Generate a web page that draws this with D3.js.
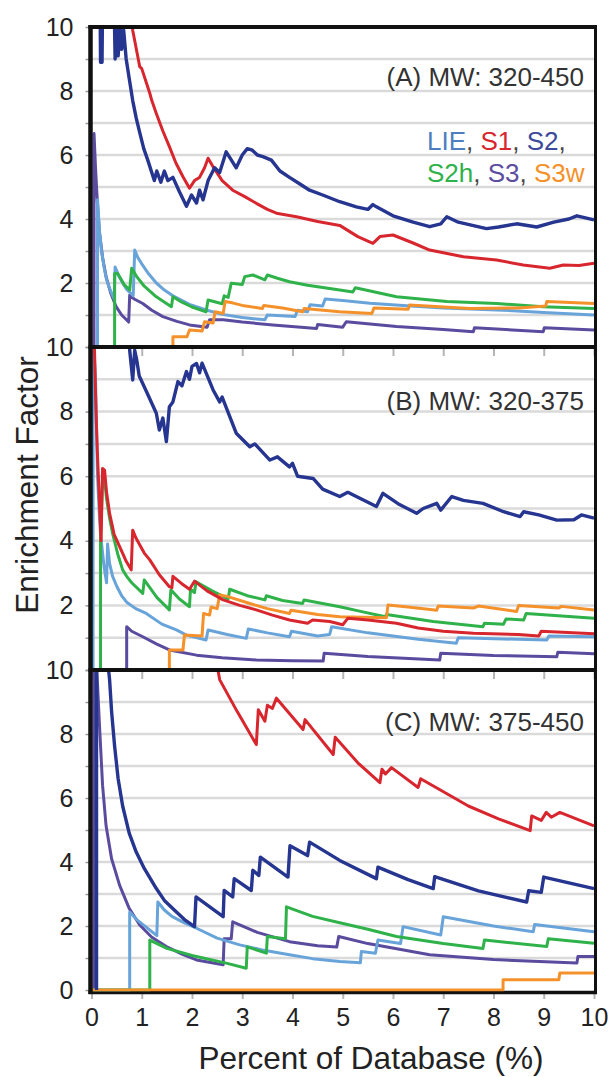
<!DOCTYPE html>
<html>
<head>
<meta charset="utf-8">
<script src="https://cdn.jsdelivr.net/npm/d3@7/dist/d3.min.js"></script>
<style>
  html, body { margin: 0; padding: 0; background: #fff; }
  svg { display: block; font-family: "Liberation Sans", Arial, sans-serif; }
</style>
</head>
<body>
<svg id="chart" width="613" height="1077"></svg>
<script>
// ---- data -------------------------------------------------------------
const seriesNames = ["LIE", "S1", "S2", "S2h", "S3", "S3w"];
const seriesColors = ["#68a4d9", "#d8262e", "#26358f", "#2fb24a", "#5a4b9f", "#f4912a"];
const legendTextColors = ["#4d7fc0", "#d8262e", "#3b4a9a", "#2fb24a", "#5c4d9f", "#f4912a"];
const drawOrder = ["S3", "LIE", "S2h", "S3w", "S1", "S2"];

const xTicks = [0, 1, 2, 3, 4, 5, 6, 7, 8, 9, 10];
const yTicks = [0, 1, 2, 3, 4, 5, 6, 7, 8, 9, 10];
const panelLabels = ["(A) MW: 320-450", "(B) MW: 320-375", "(C) MW: 375-450"];
const xTitle = "Percent of Database (%)";
const yTitle = "Enrichment Factor";

// (A) MW 320-450
const lieA = [[0.12,0],[0.12,4.6],[0.16,3.6],[0.2,3.0],[0.25,2.5],[0.3,2.1],[0.38,1.75],[0.45,1.5],[0.47,2.5],[0.55,2.2],[0.62,2.0],[0.7,1.8],[0.83,1.6],[0.86,3.03],[0.92,2.8],[1.0,2.6],[1.14,2.28],[1.29,2.0],[1.45,1.78],[1.62,1.6],[1.95,1.33],[2.3,1.15],[2.6,1.02],[3.0,0.92],[3.45,0.85],[3.5,1.0],[4.05,0.95],[4.1,1.15],[4.3,1.1],[4.35,1.32],[4.6,1.28],[4.65,1.5],[5.0,1.45],[5.54,1.37],[6.2,1.3],[7.0,1.22],[8.06,1.16],[9.0,1.08],[10,1.0]];
const s1A = [[0.78,10.6],[0.82,9.9],[0.96,8.76],[1.0,8.7],[1.16,7.93],[1.2,7.7],[1.29,7.3],[1.42,6.75],[1.55,6.26],[1.68,5.75],[1.82,5.32],[1.95,4.96],[2.05,5.2],[2.15,5.3],[2.25,5.6],[2.32,5.9],[2.42,5.63],[2.6,5.2],[2.81,4.9],[3.05,4.7],[3.28,4.49],[3.5,4.3],[3.68,4.18],[4.08,4.07],[4.5,3.92],[4.94,3.8],[5.3,3.45],[5.6,3.24],[5.74,3.45],[6.0,3.5],[6.4,3.25],[6.73,3.03],[7.4,2.82],[8.06,2.72],[8.59,2.56],[9.12,2.46],[9.39,2.56],[9.7,2.55],[10,2.62]];
const s2A = [[0.17,10.8],[0.18,8.9],[0.21,8.9],[0.22,10.8],[0.45,10.8],[0.47,9.0],[0.5,10.0],[0.53,9.1],[0.57,10.0],[0.6,9.3],[0.64,9.9],[0.69,9.0],[0.76,8.3],[0.82,7.7],[0.89,7.15],[0.96,6.7],[1.04,6.2],[1.12,5.84],[1.25,5.2],[1.3,5.5],[1.38,5.15],[1.45,5.5],[1.52,5.2],[1.62,5.3],[1.75,4.85],[1.89,4.4],[1.99,4.75],[2.09,4.5],[2.15,4.9],[2.22,4.6],[2.32,5.2],[2.45,5.6],[2.55,5.45],[2.68,6.1],[2.8,5.8],[2.88,5.6],[3.0,6.0],[3.1,6.2],[3.2,6.15],[3.3,6.0],[3.41,5.95],[3.58,5.84],[3.75,5.5],[3.94,5.3],[4.14,5.1],[4.34,4.9],[4.6,4.75],[4.94,4.54],[5.27,4.38],[5.5,4.3],[5.6,4.45],[5.67,4.38],[6.0,4.1],[6.4,3.9],[6.73,3.76],[6.95,3.85],[7.07,4.07],[7.3,3.9],[7.86,3.7],[8.1,3.75],[8.46,3.85],[8.86,3.75],[9.2,3.9],[9.5,4.0],[9.66,4.1],[10,3.97]];
const s2hA = [[0.46,0],[0.46,2.3],[0.52,2.3],[0.65,1.95],[0.76,1.78],[0.8,2.46],[0.9,2.2],[1.05,1.9],[1.29,1.57],[1.59,1.26],[1.62,1.57],[1.8,1.4],[2.0,1.25],[2.28,1.1],[2.32,1.47],[2.6,1.35],[2.64,1.6],[2.72,1.55],[2.78,1.99],[3.0,1.95],[3.05,2.2],[3.21,2.25],[3.45,2.1],[3.5,2.25],[3.7,2.15],[3.94,2.04],[4.3,1.93],[4.94,1.78],[5.2,1.72],[5.25,1.85],[6.07,1.57],[7.07,1.42],[8.06,1.36],[8.99,1.26],[10,1.2]];
const s3A = [[0.05,0],[0.05,6.67],[0.08,5.6],[0.1,5.0],[0.13,4.2],[0.16,3.56],[0.22,2.8],[0.29,2.2],[0.38,1.7],[0.49,1.26],[0.6,1.0],[0.74,0.78],[0.76,1.62],[0.85,1.5],[1.02,1.36],[1.2,1.15],[1.42,0.95],[1.7,0.8],[1.95,0.69],[2.3,0.62],[2.35,0.85],[2.62,0.85],[3.0,0.78],[3.61,0.69],[4.48,0.58],[4.5,0.7],[5.0,0.62],[5.07,0.79],[6.07,0.64],[7.0,0.55],[7.6,0.48],[7.62,0.6],[8.99,0.48],[9.01,0.6],[10,0.53]];
const s3wA = [[0,0],[1.62,0],[1.62,0.32],[1.9,0.32],[1.95,0.53],[2.2,0.5],[2.25,0.79],[2.42,0.75],[2.46,1.1],[2.62,1.05],[2.66,1.42],[2.8,1.38],[3.0,1.3],[3.4,1.2],[3.43,1.3],[3.8,1.22],[4.2,1.1],[4.23,1.2],[4.94,1.1],[5.58,1.05],[5.62,1.22],[6.3,1.18],[6.33,1.31],[7.53,1.2],[8.5,1.22],[9.04,1.28],[9.06,1.42],[10,1.36]];

// (B) MW 320-375
const lieB = [[0.03,0],[0.03,10.6],[0.08,9.0],[0.12,6.0],[0.15,5.0],[0.18,4.2],[0.25,3.2],[0.3,2.7],[0.32,3.9],[0.36,3.3],[0.42,2.9],[0.5,2.6],[0.6,2.3],[0.7,2.1],[0.88,1.9],[1.09,1.75],[1.4,1.42],[1.69,1.24],[1.89,1.08],[2.28,0.93],[2.32,1.24],[2.7,1.1],[3.08,0.98],[3.12,1.27],[3.5,1.15],[3.94,1.03],[3.98,1.2],[4.5,1.05],[4.74,1.1],[4.78,1.34],[5.5,1.15],[6.5,0.95],[7.26,0.83],[7.3,1.0],[8.2,0.96],[9.06,0.93],[9.1,1.05],[10,1.03]];
const s1B = [[0.05,10.6],[0.06,9.9],[0.08,8.6],[0.1,7.5],[0.12,6.6],[0.15,5.5],[0.19,4.0],[0.22,6.24],[0.26,6.19],[0.3,5.5],[0.36,4.85],[0.45,4.2],[0.56,3.82],[0.68,3.4],[0.79,3.1],[0.82,4.33],[0.88,4.1],[0.95,3.9],[1.05,3.62],[1.16,3.41],[1.35,2.95],[1.55,2.58],[1.6,2.55],[1.62,2.9],[1.79,2.68],[1.95,2.5],[2.05,2.75],[2.3,2.45],[2.62,2.17],[2.95,2.0],[3.28,1.86],[3.6,1.7],[3.94,1.55],[4.3,1.45],[4.4,1.55],[4.74,1.5],[5.0,1.4],[5.1,1.6],[5.5,1.55],[6.07,1.45],[6.5,1.3],[7.0,1.2],[7.6,1.14],[8.5,1.1],[8.9,1.05],[8.95,1.2],[10,1.12]];
const s2B = [[0.74,10.6],[0.76,9.9],[0.82,8.98],[0.86,9.9],[0.9,9.6],[0.95,9.1],[1.1,8.6],[1.29,7.95],[1.35,7.43],[1.42,7.8],[1.49,7.07],[1.55,8.15],[1.62,8.3],[1.72,8.93],[1.8,8.8],[1.89,9.24],[1.95,9.0],[2.0,9.4],[2.09,9.49],[2.15,9.2],[2.2,9.5],[2.42,8.67],[2.55,8.3],[2.6,8.45],[2.88,7.33],[3.15,6.91],[3.25,7.0],[3.55,6.5],[3.7,6.6],[3.94,6.29],[4.0,6.4],[4.1,6.0],[4.41,5.93],[4.6,5.6],[4.94,5.37],[5.1,5.5],[5.67,5.06],[5.8,5.47],[6.1,5.15],[6.47,4.85],[6.6,5.0],[6.87,5.16],[6.95,4.95],[7.17,5.37],[7.4,5.25],[7.79,5.16],[8.2,4.9],[8.53,4.75],[8.6,4.9],[8.9,4.8],[9.26,4.64],[9.6,4.65],[9.75,4.8],[10,4.7]];
const s2hB = [[0.18,0],[0.18,4.0],[0.22,5.88],[0.26,5.88],[0.3,5.3],[0.36,4.7],[0.42,4.23],[0.52,3.6],[0.62,3.1],[0.7,2.9],[0.8,2.7],[1.02,2.37],[1.05,2.79],[1.3,2.25],[1.55,1.86],[1.58,2.48],[1.75,2.2],[1.95,1.96],[1.97,2.5],[2.05,2.4],[2.08,2.73],[2.4,2.45],[2.72,2.2],[2.75,2.5],[3.1,2.3],[3.45,2.17],[3.48,2.3],[3.8,2.15],[4.2,2.06],[4.23,2.17],[4.94,1.96],[5.4,1.8],[5.85,1.65],[5.87,1.72],[6.8,1.5],[7.79,1.34],[7.82,1.45],[8.2,1.42],[8.25,1.58],[8.6,1.55],[8.65,1.75],[10,1.6]];
const s3B = [[0.7,0],[0.7,1.34],[0.8,1.2],[1.02,1.03],[1.3,0.8],[1.55,0.62],[2.09,0.46],[2.6,0.38],[3.28,0.31],[4.0,0.29],[4.61,0.28],[4.63,0.52],[5.5,0.42],[6.93,0.31],[6.95,0.52],[8.0,0.45],[9.26,0.41],[9.28,0.55],[10,0.5]];
const s3wB = [[0,0],[1.55,0],[1.55,0.62],[1.82,0.62],[1.85,1.08],[2.2,1.05],[2.23,1.75],[2.35,1.7],[2.38,1.95],[2.5,1.9],[2.55,2.32],[2.7,2.28],[3.15,2.06],[3.5,1.9],[3.94,1.75],[3.97,1.85],[4.5,1.72],[4.94,1.65],[5.87,1.62],[5.9,2.01],[6.3,1.95],[6.87,1.85],[6.9,1.98],[7.6,1.92],[7.7,1.98],[8.46,1.81],[8.5,2.0],[9.3,1.92],[9.35,1.97],[10,1.86]];

// (C) MW 375-450
const lieC = [[0,0],[0.76,0],[0.76,2.44],[0.9,2.2],[1.1,1.95],[1.3,1.7],[1.32,2.75],[1.45,2.5],[1.6,2.3],[1.85,2.1],[2.09,1.93],[2.5,1.62],[2.95,1.41],[3.4,1.25],[3.94,1.1],[4.4,0.98],[4.94,0.89],[5.35,0.85],[5.37,1.2],[5.65,1.15],[5.7,1.56],[6.15,1.45],[6.2,1.98],[6.95,1.72],[7.0,2.29],[8.0,2.0],[8.79,1.82],[8.82,2.05],[10,1.82]];
const s1C = [[2.45,10.6],[2.55,9.7],[2.9,8.7],[3.28,7.67],[3.32,8.76],[3.45,8.4],[3.5,8.9],[3.6,8.8],[3.68,9.12],[4.21,8.14],[4.25,8.45],[4.81,7.36],[4.85,7.9],[5.3,7.1],[5.74,6.48],[5.78,6.9],[5.85,6.75],[5.97,6.95],[6.5,6.33],[6.55,6.6],[7.5,5.75],[8.1,5.35],[8.73,4.98],[8.76,5.44],[8.95,5.3],[9.05,5.55],[9.15,5.4],[9.32,5.55],[10,5.13]];
const s2C = [[0.1,0],[0.1,10.6],[0.3,10.6],[0.36,9.7],[0.4,8.7],[0.46,7.62],[0.53,6.6],[0.62,5.75],[0.75,4.9],[0.89,4.31],[1.05,3.8],[1.29,3.17],[1.45,2.8],[1.69,2.44],[1.85,2.2],[2.05,1.98],[2.08,2.91],[2.62,2.29],[2.64,3.11],[2.81,2.91],[2.84,3.48],[3.18,3.11],[3.21,3.74],[3.33,3.58],[3.36,4.15],[3.91,3.53],[3.95,4.51],[4.3,4.2],[4.34,4.62],[4.94,4.05],[5.67,3.48],[5.7,3.84],[6.3,3.45],[6.8,3.17],[6.83,3.54],[7.7,3.1],[8.66,2.75],[8.7,3.1],[8.95,3.05],[9.0,3.53],[10,3.17]];
const s2hC = [[0,0],[1.16,0],[1.16,1.56],[1.5,1.3],[2.0,1.08],[2.68,0.84],[3.08,0.68],[3.1,1.35],[3.48,1.15],[3.5,1.67],[3.86,1.6],[3.88,2.6],[4.4,2.3],[4.94,2.1],[5.5,1.9],[6.07,1.67],[7.0,1.45],[7.79,1.3],[7.82,1.56],[9.06,1.36],[9.09,1.6],[10,1.46]];
const s3C = [[0.05,0],[0.05,10.6],[0.1,10.2],[0.16,8.24],[0.22,6.4],[0.29,5.13],[0.4,4.1],[0.56,3.27],[0.75,2.55],[0.96,2.03],[1.2,1.65],[1.49,1.36],[1.8,1.12],[2.09,0.94],[2.62,0.79],[2.64,1.6],[2.78,1.6],[2.81,2.13],[3.3,1.8],[3.94,1.51],[4.5,1.38],[4.88,1.34],[4.92,1.67],[5.5,1.45],[6.73,1.1],[8.0,0.95],[9.66,0.84],[9.68,1.05],[10,1.05]];
const s3wC = [[0,0],[8.19,0],[8.19,0.32],[9.3,0.32],[9.32,0.53],[10,0.53]];

const panelSeries = [
  { LIE: lieA, S1: s1A, S2: s2A, S2h: s2hA, S3: s3A, S3w: s3wA },
  { LIE: lieB, S1: s1B, S2: s2B, S2h: s2hB, S3: s3B, S3w: s3wB },
  { LIE: lieC, S1: s1C, S2: s2C, S2h: s2hC, S3: s3C, S3w: s3wC }
];

// ---- layout -----------------------------------------------------------
const svg = d3.select("#chart");
const xLeft = 91.5, xRight = 594;
const x = d3.scaleLinear().domain([0, 10]).range([xLeft, xRight]);
const panelBox = [
  { top: 27, bottom: 347 },
  { top: 347, bottom: 670 },
  { top: 670, bottom: 990 }
];
const colorOf = Object.fromEntries(seriesNames.map((n, i) => [n, seriesColors[i]]));

const defs = svg.append("defs");

panelBox.forEach((box, pi) => {
  const last = pi === panelBox.length - 1;
  const y = d3.scaleLinear().domain([0, 10]).range([box.bottom, box.top]);
  const g = svg.append("g").attr("class", "panel");

  // horizontal grid
  g.append("g").selectAll("line")
    .data(yTicks.filter(d => d > 0 && d < 10))
    .join("line")
    .attr("x1", xLeft).attr("x2", xRight)
    .attr("y1", d => y(d)).attr("y2", d => y(d))
    .attr("stroke", "#dadada").attr("stroke-width", 2.5);

  // y axis
  const yAxis = d3.axisLeft(y)
    .tickValues(yTicks)
    .tickSize(4)
    .tickPadding(12)
    .tickFormat(d => (d % 2 === 0 && (d > 0 || last)) ? d : "");
  const ya = g.append("g").attr("transform", `translate(${xLeft - 2},0)`).call(yAxis);
  ya.select(".domain").remove();
  ya.selectAll(".tick line").attr("stroke", "#999").attr("stroke-width", 1.5);
  ya.selectAll(".tick text")
    .attr("font-size", 25).attr("fill", "#222")
    .attr("font-family", "Liberation Sans, Arial, sans-serif");

  // x axis ticks (labels only on the bottom panel)
  const xAxis = d3.axisBottom(x)
    .tickValues(xTicks)
    .tickSize(8)
    .tickPadding(9)
    .tickFormat(d => last ? d : "");
  const xa = g.append("g").attr("transform", `translate(0,${box.bottom + 1})`).call(xAxis);
  xa.select(".domain").remove();
  xa.selectAll(".tick line").attr("stroke", "#b5b5b5").attr("stroke-width", 2);
  xa.selectAll(".tick text")
    .attr("font-size", 25).attr("fill", "#222")
    .attr("font-family", "Liberation Sans, Arial, sans-serif");

  // panel frame (drawn under the curves)
  const frame = g.append("g").attr("stroke", "#111").attr("fill", "none");
  frame.append("line").attr("x1", 88.5).attr("x2", 597)
    .attr("y1", box.top).attr("y2", box.top).attr("stroke-width", 4);
  frame.append("line").attr("x1", 595.5).attr("x2", 595.5)
    .attr("y1", box.top).attr("y2", box.bottom + 2).attr("stroke-width", 3);
  if (last) {
    frame.append("line").attr("x1", 88.5).attr("x2", 597)
      .attr("y1", box.bottom + 2.5).attr("y2", box.bottom + 2.5).attr("stroke-width", 3.5);
  }

  // curves
  const clipId = "clip" + pi;
  defs.append("clipPath").attr("id", clipId)
    .append("rect")
    .attr("x", xLeft + 0.5).attr("y", box.top + 2)
    .attr("width", xRight - xLeft + 0.5)
    .attr("height", box.bottom - box.top - 2 + (last ? 1.5 : 0));

  const line = d3.line().x(d => x(d[0])).y(d => y(d[1]));
  g.append("g").attr("clip-path", `url(#${clipId})`)
    .selectAll("path")
    .data(drawOrder.map(n => ({ name: n, pts: panelSeries[pi][n] })))
    .join("path")
    .attr("d", d => line(d.pts))
    .attr("fill", "none")
    .attr("stroke", d => colorOf[d.name])
    .attr("stroke-width", d => d.name === "S2" ? 3.4 : 3)
    .attr("stroke-linejoin", "round");

  // panel label
  g.append("text")
    .attr("x", 584).attr("y", [86, 410, 731][pi])
    .attr("text-anchor", "end")
    .attr("font-size", 26).attr("fill", "#333")
    .text(panelLabels[pi]);
});

// left axis line across all panels
svg.append("line")
  .attr("x1", 90.5).attr("x2", 90.5)
  .attr("y1", 25).attr("y2", 994)
  .attr("stroke", "#111").attr("stroke-width", 4.5);

// legend (two rows of coloured names)
const legendRows = [[0, 1, 2], [3, 4, 5]];
legendRows.forEach((row, ri) => {
  const t = svg.append("text")
    .attr("x", 427).attr("y", [150, 182][ri])
    .attr("font-size", 26);
  row.forEach((si, k) => {
    t.append("tspan").attr("fill", legendTextColors[si]).text(seriesNames[si]);
    if (ri === 0 || k < row.length - 1) {
      t.append("tspan").attr("fill", "#444").text(k < row.length - 1 ? ", " : ",");
    }
  });
});

// axis titles
svg.append("text")
  .attr("x", 371).attr("y", 1069)
  .attr("text-anchor", "middle")
  .attr("font-size", 31.5).attr("fill", "#222")
  .text(xTitle);

svg.append("text")
  .attr("transform", "translate(38,485) rotate(-90)")
  .attr("text-anchor", "middle")
  .attr("font-size", 31.5).attr("fill", "#222")
  .text(yTitle);
</script>
</body>
</html>
